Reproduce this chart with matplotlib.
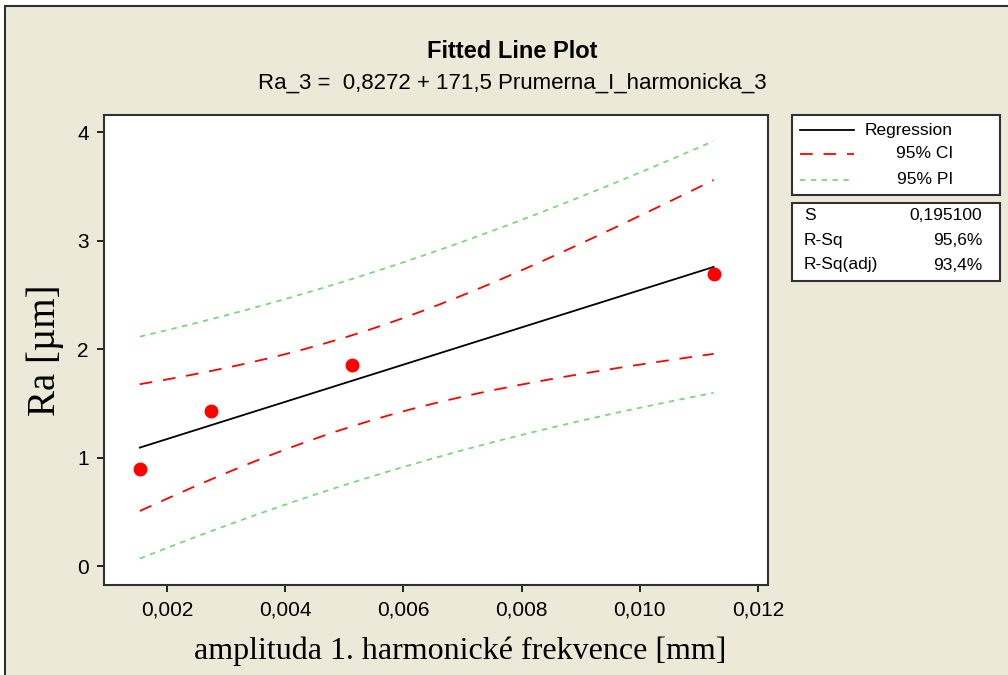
import numpy as np
import matplotlib
matplotlib.use("Agg")
import matplotlib.pyplot as plt
from matplotlib.patches import Rectangle
from matplotlib.lines import Line2D
from matplotlib.ticker import FuncFormatter

# data
amplituda = [0.00154, 0.00274, 0.00513, 0.01125]
ra = [0.894, 1.43, 1.85, 2.69]

# regression statistics as printed on the chart
intercept = 0.8272
slope = 171.5
s_value = 0.195100
r_sq = "95,6%"
r_sq_adj = "93,4%"
t_crit = 4.3027  # t(0.975, df=2)

x_ticks = [0.002, 0.004, 0.006, 0.008, 0.010, 0.012]
y_ticks = [0, 1, 2, 3, 4]

sans = "Liberation Sans"
serif = "Liberation Serif"
bg = "#ECE9D8"

fig = plt.figure(figsize=(10.08, 6.75), dpi=100, facecolor="white")
fig.add_artist(Rectangle((5 / 1008, -0.1), 1.2, 1 - 6 / 675 + 0.1,
                         transform=fig.transFigure, facecolor=bg,
                         edgecolor="#303030", linewidth=1.5, zorder=-10))

ax = fig.add_axes([104 / 1008, 1 - 585 / 675, 664 / 1008, 470 / 675])
ax.set_facecolor("white")

# fitted line, confidence and prediction bands
x = np.array(amplituda)
xs = np.linspace(x.min(), x.max(), 200)
fit = intercept + slope * xs
sxx = np.sum((x - x.mean()) ** 2)
lev = 1 / len(x) + (xs - x.mean()) ** 2 / sxx
ci = t_crit * s_value * np.sqrt(lev)
pi = t_crit * s_value * np.sqrt(1 + lev)

ax.plot(xs, fit, color="black", lw=1.3)
ax.plot(xs, fit + ci, color="red", lw=1.3, dashes=(7, 6))
ax.plot(xs, fit - ci, color="red", lw=1.3, dashes=(7, 6))
ax.plot(xs, fit + pi, color="#7DD67D", lw=1.3, dashes=(3, 3))
ax.plot(xs, fit - pi, color="#7DD67D", lw=1.3, dashes=(3, 3))
ax.plot(amplituda, ra, "o", color="red", markersize=9)

ax.set_xlim(0.000934, 0.01217)
ax.set_ylim(-0.175, 4.157)
ax.set_xticks(x_ticks)
ax.set_yticks(y_ticks)
ax.xaxis.set_major_formatter(FuncFormatter(lambda v, p: f"{v:.3f}".replace(".", ",")))
ax.tick_params(direction="out", length=5, width=1.2, labelsize=15, pad=6)
for lab in ax.get_xticklabels() + ax.get_yticklabels():
    lab.set_family(sans)
for sp in ax.spines.values():
    sp.set_linewidth(1.5)
    sp.set_color("#303030")

ax.set_xlabel("amplituda 1. harmonické frekvence [mm]", family=serif,
              fontsize=23, va="center")
ax.xaxis.set_label_coords(0.536, -0.14)
ax.set_ylabel("Ra [µm]", family=serif, fontsize=28, va="center")
ax.yaxis.set_label_coords(-0.088, 0.5)

fig.text(512 / 1008, 1 - 52 / 675, "Fitted Line Plot", family=sans,
         fontsize=17, weight="bold", ha="center", va="center")
fig.text(512 / 1008, 1 - 83 / 675,
         "Ra_3 =  0,8272 + 171,5 Prumerna_I_harmonicka_3", family=sans,
         fontsize=16, ha="center", va="center")

# legend box
fig.add_artist(Rectangle((792 / 1008, 1 - 195 / 675), 208 / 1008, 80 / 675,
                         transform=fig.transFigure, facecolor="white",
                         edgecolor="#303030", linewidth=1.5, zorder=1))
items = [("Regression", "black", None, 130), ("95% CI", "red", (7, 6), 154),
         ("95% PI", "#7DD67D", (3, 3), 180)]
for label, col, ds, yy in items:
    ln = Line2D([800 / 1008, 854 / 1008], [1 - yy / 675] * 2,
                transform=fig.transFigure, color=col, lw=1.3, zorder=2)
    if ds:
        ln.set_dashes(ds)
    fig.add_artist(ln)
    fig.text(953 / 1008, 1 - yy / 675, label, family=sans, fontsize=12.5,
             ha="right", va="center", zorder=2)

# statistics box
fig.add_artist(Rectangle((792 / 1008, 1 - 281 / 675), 208 / 1008, 78 / 675,
                         transform=fig.transFigure, facecolor="white",
                         edgecolor="#303030", linewidth=1.5, zorder=1))
stats = [("S", f"{s_value:.6f}".replace(".", ","), 215),
         ("R-Sq", r_sq, 240), ("R-Sq(adj)", r_sq_adj, 265)]
for name, val, yy in stats:
    fig.text(804 / 1008, 1 - yy / 675, name, family=sans, fontsize=12.5,
             ha="left", va="center", zorder=2)
    fig.text(982 / 1008, 1 - yy / 675, val, family=sans, fontsize=12.5,
             ha="right", va="center", zorder=2)

fig.savefig("out.png", dpi=100, facecolor=fig.get_facecolor())
